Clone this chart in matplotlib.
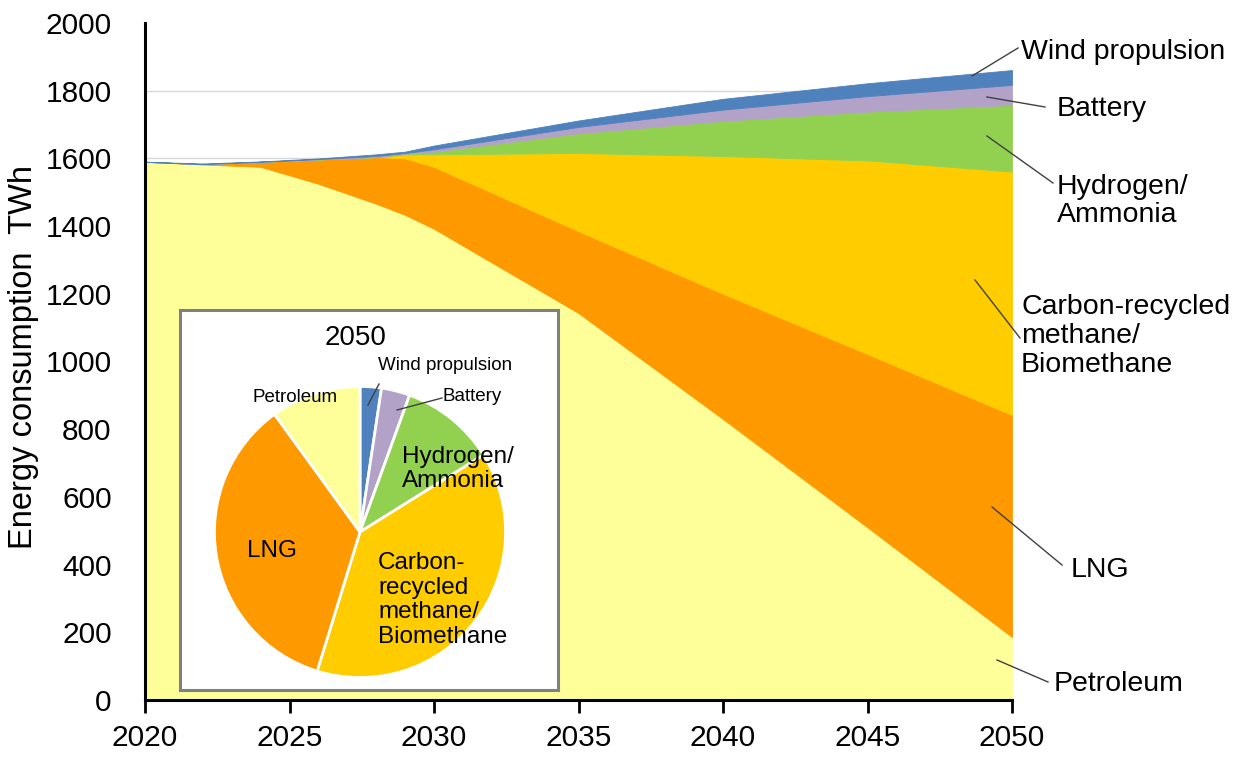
import matplotlib
matplotlib.use("Agg")
import matplotlib.pyplot as plt
from matplotlib.lines import Line2D

plt.rcParams['font.family'] = ['Liberation Sans', 'DejaVu Sans']

# ---- data (TWh) ----
years = [2020, 2022, 2024, 2026, 2028, 2029, 2030, 2035, 2040, 2045, 2050]
petroleum = [1590, 1582, 1575, 1525, 1466, 1433, 1392, 1143, 830, 510, 186]
lng = [0, 1, 15, 72, 138, 167, 183, 242, 370, 512, 656]
carbon_methane = [0, 0, 0, 0, 0, 12, 37, 231, 407, 572, 719]
hydrogen = [0, 0, 0, 0, 0, 2, 8, 58, 104, 144, 197]
battery = [0, 0, 0, 1, 3, 2, 7, 19, 33, 46, 59]
wind = [0, 2, 1, 2, 5, 4, 11, 19, 32, 38, 44]

series_names = ["Petroleum", "LNG", "Carbon-recycled\nmethane/\nBiomethane",
                "Hydrogen/\nAmmonia", "Battery", "Wind propulsion"]
colors = ["#FFFF99", "#FF9900", "#FFCC00", "#92D050", "#B3A2C7", "#4F81BD"]
x_ticks = [2020, 2025, 2030, 2035, 2040, 2045, 2050]
y_ticks = [0, 200, 400, 600, 800, 1000, 1200, 1400, 1600, 1800, 2000]
y_label = "Energy consumption  TWh"
pie_title = "2050"

W, H = 1243, 758
fig = plt.figure(figsize=(W / 100, H / 100), dpi=100)


def px(x, y):
    return x / W, 1 - y / H


ax = fig.add_axes([145 / W, 1 - 700 / H, (1012 - 145) / W, (700 - 23) / H])
polys = ax.stackplot(years, petroleum, lng, carbon_methane, hydrogen, battery, wind,
                     colors=colors, zorder=2)
for p, c in zip(polys, colors):
    p.set_edgecolor(c)
    p.set_linewidth(0.6)

ax.set_xlim(2020, 2050)
ax.set_ylim(0, 2000)
ax.set_xticks(x_ticks)
ax.set_yticks(y_ticks)
ax.set_xticklabels([str(t) for t in x_ticks], fontsize=21.5)
ax.set_yticklabels([str(t) for t in y_ticks], fontsize=21.5)
ax.tick_params(axis='x', direction='out', length=9, width=2, pad=8, colors='black')
ax.tick_params(axis='y', length=0, pad=24)
ax.grid(axis='y', color='#D9D9D9', linewidth=1, zorder=0)
ax.get_ygridlines()[-1].set_visible(False)
ax.set_axisbelow(True)
for s in ['top', 'right']:
    ax.spines[s].set_visible(False)
for s in ['left', 'bottom']:
    ax.spines[s].set_linewidth(2.2)
    ax.spines[s].set_color('black')
    ax.spines[s].set_zorder(5)

fig.text(*px(24, 357), y_label, rotation=90, ha='center', va='center', fontsize=23.5)

# ---- right-side labels with leader lines ----
label_fs = 20.5
fig.text(*px(1021, 52), series_names[5], ha='left', va='center', fontsize=label_fs)
fig.text(*px(1057, 109), series_names[4], ha='left', va='center', fontsize=label_fs)
fig.text(*px(1057, 201), series_names[3], ha='left', va='center', fontsize=label_fs,
         linespacing=1.15)
fig.text(*px(1021, 336), series_names[2], ha='left', va='center', fontsize=label_fs,
         linespacing=1.15)
fig.text(*px(1071, 570), series_names[1], ha='left', va='center', fontsize=label_fs)
fig.text(*px(1054, 684), series_names[0], ha='left', va='center', fontsize=label_fs)

leaders = [((972, 76), (1018, 48)),
           ((987, 97), (1045, 107)),
           ((987, 136), (1053, 183)),
           ((975, 280), (1020, 338)),
           ((992, 507), (1062, 565)),
           ((997, 660), (1048, 682))]
for (x1, y1), (x2, y2) in leaders:
    a, b = px(x1, y1)
    c, d = px(x2, y2)
    fig.add_artist(Line2D([a, c], [b, d], color='#404040', linewidth=1.0, zorder=10))

# ---- inset pie (2050) ----
bx0, by0, bx1, by1 = 180, 310, 558, 690
box = fig.add_axes([bx0 / W, 1 - by1 / H, (bx1 - bx0) / W, (by1 - by0) / H], zorder=6)
box.set_xticks([])
box.set_yticks([])
box.set_facecolor('white')
for s in box.spines.values():
    s.set_color('#808080')
    s.set_linewidth(2.2)

cx, cy, r = 360, 532, 147
pax = fig.add_axes([(cx - r) / W, 1 - (cy + r) / H, 2 * r / W, 2 * r / H], zorder=7)
pie_vals = [wind[-1], battery[-1], hydrogen[-1], carbon_methane[-1], lng[-1], petroleum[-1]]
pie_cols = [colors[5], colors[4], colors[3], colors[2], colors[1], colors[0]]
pax.pie(pie_vals, colors=pie_cols, startangle=90, counterclock=False, radius=1,
        wedgeprops=dict(edgecolor='white', linewidth=2))
pax.set_xlim(-1.01, 1.01)
pax.set_ylim(-1.01, 1.01)
pax.set_aspect('equal')
pax.axis('off')

fig.text(*px(356, 338), pie_title, ha='center', va='center', fontsize=20, zorder=20)
small_fs = 13.5
fig.text(*px(378, 365), "Wind propulsion", ha='left', va='center', fontsize=small_fs, zorder=20)
fig.text(*px(443, 396), "Battery", ha='left', va='center', fontsize=small_fs, zorder=20)
fig.text(*px(253, 397), "Petroleum", ha='left', va='center', fontsize=small_fs, zorder=20)
fig.text(*px(402, 469), "Hydrogen/\nAmmonia", ha='left', va='center', fontsize=17.5,
         linespacing=1.1, zorder=20)
fig.text(*px(272, 551), "LNG", ha='center', va='center', fontsize=17.5, zorder=20)
fig.text(*px(378, 600), "Carbon-\nrecycled\nmethane/\nBiomethane", ha='left', va='center',
         fontsize=17.5, linespacing=1.15, zorder=20)
for (x1, y1), (x2, y2) in [((368, 405), (379, 384)), ((397, 410), (442, 398))]:
    a, b = px(x1, y1)
    c, d = px(x2, y2)
    fig.add_artist(Line2D([a, c], [b, d], color='#404040', linewidth=1.0, zorder=20))

fig.savefig("out.png", dpi=100)
